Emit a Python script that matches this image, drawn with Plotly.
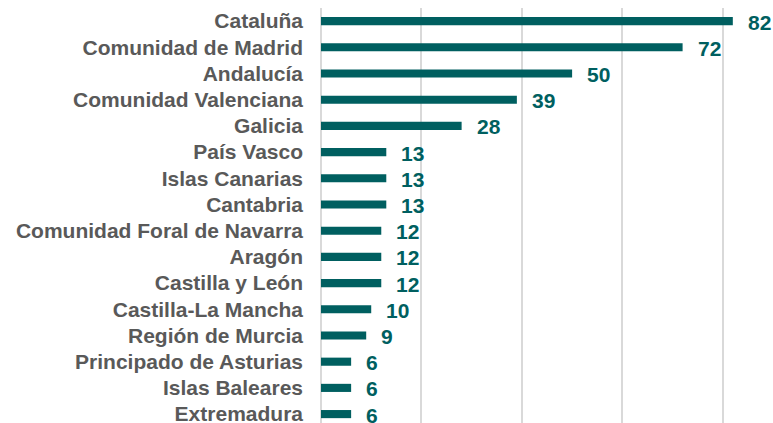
import plotly.graph_objects as go

regions = ["Cataluña", "Comunidad de Madrid", "Andalucía", "Comunidad Valenciana", "Galicia",
           "País Vasco", "Islas Canarias", "Cantabria", "Comunidad Foral de Navarra", "Aragón",
           "Castilla y León", "Castilla-La Mancha", "Región de Murcia", "Principado de Asturias",
           "Islas Baleares", "Extremadura"]
values = [82, 72, 50, 39, 28, 13, 13, 13, 12, 12, 12, 10, 9, 6, 6, 6]

bar_color = "#005F60"
label_color = "#595959"

fig = go.Figure(go.Bar(
    x=values, y=regions, orientation="h",
    marker=dict(color=bar_color, line=dict(width=0)),
    width=0.31,
))

for r, v in zip(regions, values):
    fig.add_annotation(x=v, y=r, text=f"<b>{v}</b>", showarrow=False,
                       xanchor="left", xshift=13, yshift=-1,
                       font=dict(family="Liberation Sans, Arial", size=21, color=bar_color))

fig.update_layout(
    width=773, height=423,
    margin=dict(l=321, r=0, t=8, b=0, autoexpand=False),
    paper_bgcolor="white", plot_bgcolor="white",
    showlegend=False,
    font=dict(family="Liberation Sans, Arial", size=21, color=label_color),
)
fig.update_xaxes(range=[0, 90], tickvals=[0, 20, 40, 60, 80], showticklabels=False,
                 showgrid=True, gridcolor="#d9d9d9", gridwidth=1.5, automargin=False,
                 zeroline=True, zerolinecolor="#d9d9d9", zerolinewidth=1.5, fixedrange=True)
fig.update_yaxes(range=[15.34, -0.5], showgrid=False, ticks="", ticklabelstandoff=17,
                 automargin=False,
                 tickfont=dict(family="Liberation Sans, Arial", size=21, color=label_color,
                               weight="bold"),
                 fixedrange=True)

fig.write_html("out.html", config={"displayModeBar": False},
               post_script="document.body.style.margin='0';document.body.style.overflow='hidden';")
